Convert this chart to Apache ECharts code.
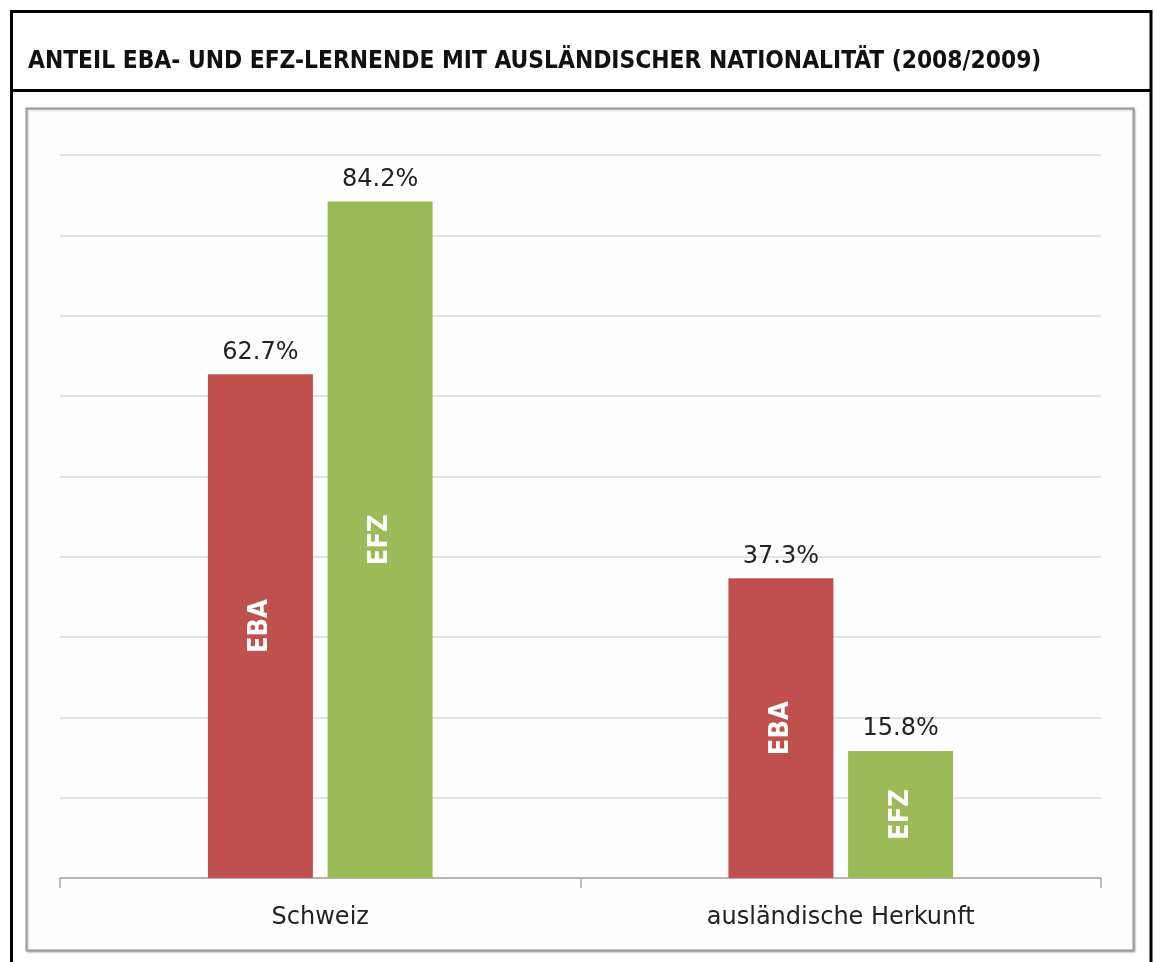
<!DOCTYPE html>
<html>
<head>
<meta charset="utf-8">
<script src="https://cdn.jsdelivr.net/npm/echarts@6/dist/echarts.min.js"></script>
<style>
  html, body { margin: 0; padding: 0; background: #fff; }
  #chart { width: 1154px; height: 962px; }
</style>
</head>
<body>
<div id="chart"></div>
<script>
const titleText = 'ANTEIL EBA- UND EFZ-LERNENDE MIT AUSLÄNDISCHER NATIONALITÄT (2008/2009)';
const categories = ['Schweiz', 'ausländische Herkunft'];
const ebaValues = [62.7, 37.3];
const efzValues = [84.2, 15.8];
const seriesNames = ['EBA', 'EFZ'];

const RED = '#C0504D';
const GREEN = '#9BBB59';

const chart = echarts.init(document.getElementById('chart'));

const barCommon = {
    type: 'bar',
    barWidth: 105,
    barGap: '14%'
};

const valueLabel = {
    show: true,
    position: 'top',
    distance: 10,
    formatter: p => p.value.toFixed(1) + '%',
    fontFamily: 'DejaVu Sans',
    fontSize: 24,
    color: '#222'
};

const innerLabel = {
    show: true,
    position: 'inside',
    rotate: 90,
    formatter: '{a}',
    fontFamily: 'DejaVu Sans Condensed',
    fontWeight: 'bold',
    fontSize: 27,
    color: '#fff'
};

const option = {
    backgroundColor: '#fff',
    animation: false,
    title: {
        text: titleText,
        left: 23,
        top: 45,
        textStyle: {
            fontFamily: 'DejaVu Sans Condensed',
            fontWeight: 'bold',
            fontSize: 24.3,
            color: '#111'
        }
    },
    graphic: [
        // outer black frame
        { type: 'rect', shape: { x: 11.5, y: 11.5, width: 1139.5, height: 960 },
          style: { fill: null, stroke: '#000', lineWidth: 3 }, z: -1 },
        { type: 'line', shape: { x1: 10, y1: 90.5, x2: 1152, y2: 90.5 },
          style: { stroke: '#000', lineWidth: 3 }, z: -1 },
        // gray chart box
        { type: 'rect', shape: { x: 26.5, y: 108.5, width: 1107, height: 842 },
          style: { fill: '#fefefe', stroke: '#9a9a9a', lineWidth: 2,
                   shadowColor: 'rgba(0,0,0,0.2)', shadowBlur: 2, shadowOffsetX: 1, shadowOffsetY: 1 }, z: -1 }
    ],
    grid: {
        left: 60,
        right: 53,
        top: 155,
        bottom: 84
    },
    xAxis: [
        {
            type: 'category',
            data: categories,
            axisLine: { show: true, lineStyle: { color: '#a6a6a6', width: 1.5 } },
            axisTick: { show: true, length: 10, alignWithLabel: false, lineStyle: { color: '#a6a6a6', width: 1.5 } },
            axisLabel: {
                margin: 28,
                fontFamily: 'DejaVu Sans',
                fontSize: 24,
                color: '#222'
            }
        },
        {
            type: 'category',
            data: categories,
            show: false
        }
    ],
    yAxis: {
        type: 'value',
        min: 0,
        max: 90,
        interval: 10,
        axisLabel: { show: false },
        axisLine: { show: false },
        axisTick: { show: false },
        splitLine: { lineStyle: { color: '#d9d9d9', width: 1.5 } }
    },
    series: [
        Object.assign({}, barCommon, {
            name: seriesNames[0],
            data: ebaValues,
            itemStyle: { color: RED },
            label: valueLabel
        }),
        Object.assign({}, barCommon, {
            name: seriesNames[1],
            data: efzValues,
            itemStyle: { color: GREEN },
            label: valueLabel
        }),
        // overlay series carrying the rotated names inside the bars
        Object.assign({}, barCommon, {
            name: seriesNames[0],
            xAxisIndex: 1,
            data: ebaValues,
            itemStyle: { color: 'rgba(0,0,0,0)' },
            label: innerLabel,
            silent: true
        }),
        Object.assign({}, barCommon, {
            name: seriesNames[1],
            xAxisIndex: 1,
            data: efzValues,
            itemStyle: { color: 'rgba(0,0,0,0)' },
            label: innerLabel,
            silent: true
        })
    ]
};

chart.setOption(option);
window.addEventListener('resize', () => chart.resize());
</script>
</body>
</html>
